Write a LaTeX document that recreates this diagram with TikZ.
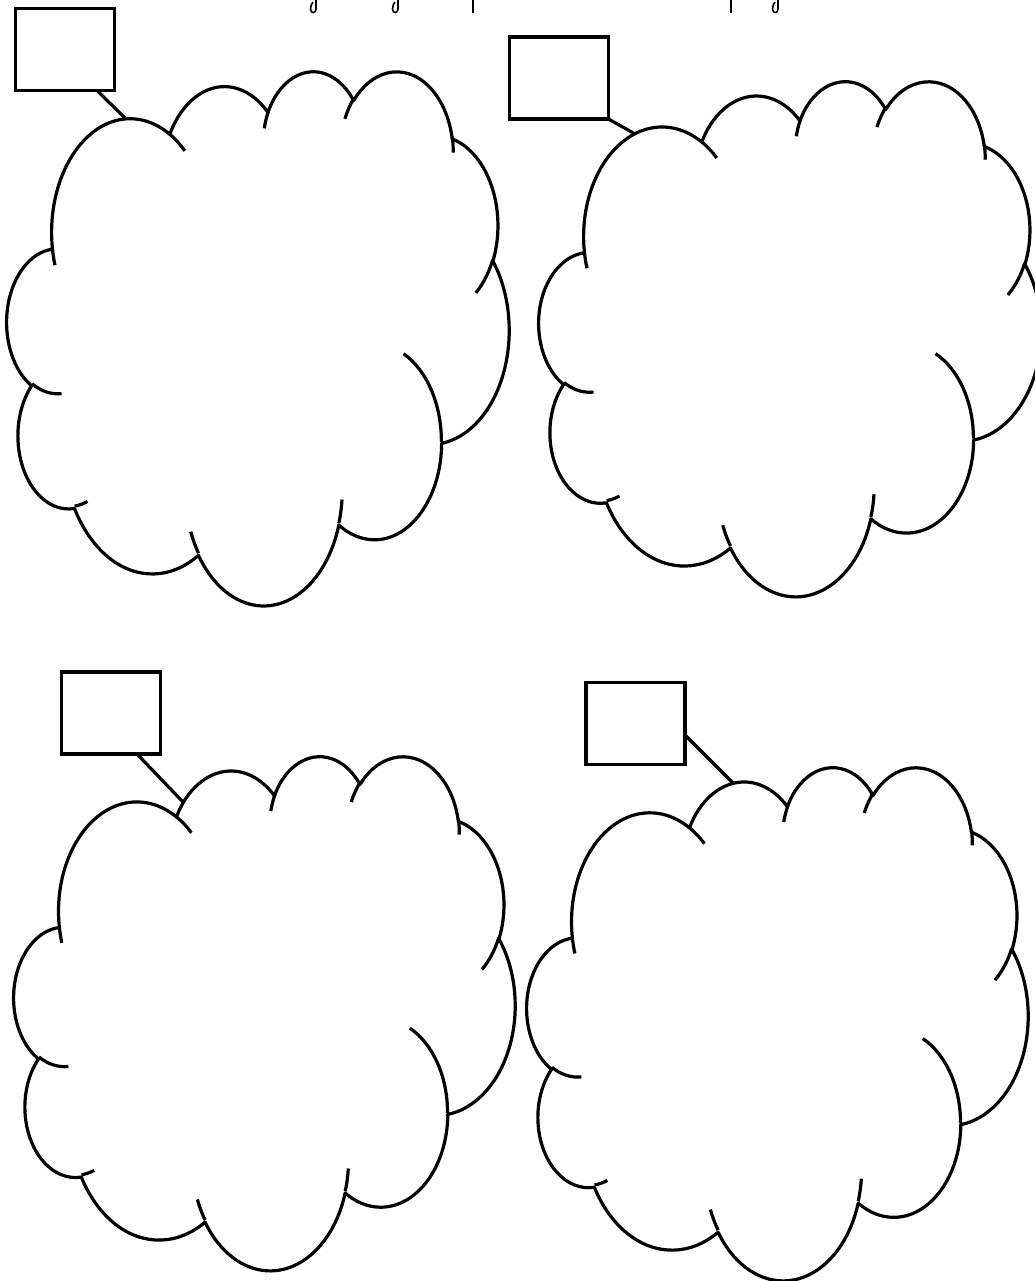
\documentclass[tikz,border=0pt]{standalone}
\pgfmathdeclarefunction{pang}{3}{%
  \begingroup
  \pgfmathparse{#1+Mod(atan2(#2*sin(#1),#3*cos(#1))-#1+180,360)-180}%
  \pgfmathsmuggle\pgfmathresult
  \endgroup}
\newcommand\oarc[4]{arc[start angle={pang(#3,#1,#2)}, end angle={pang(#3+#4,#1,#2)}, x radius=#1, y radius=#2]}
\newcommand\officecloud[4]{%
  \begin{scope}[shift={(#1,#2)}, xscale=#3/43.2, yscale=#4/43.2]
    \draw[cloudline, fill=white] (3.900,14.370)
      \oarc{6.753}{9.190}{-190.4875}{123.7805}
      \oarc{5.333}{7.267}{-144.1024}{89.9452}
      \oarc{4.365}{5.945}{-145.8079}{99.7230}
      \oarc{4.857}{6.595}{-130.9861}{117.2417}
      \oarc{5.333}{7.273}{-78.7089}{109.0269}
      \oarc{6.775}{9.220}{-46.2673}{130.2690}
      \oarc{5.785}{7.867}{0.6250}{114.0333}
      \oarc{6.752}{9.215}{22.4516}{115.1726}
      \oarc{7.720}{10.543}{66.2426}{75.7110}
      \oarc{4.360}{5.918}{-274.9421}{146.7356}
      \oarc{4.345}{5.945}{-246.8285}{152.5189}
      -- cycle;
    \draw[cloudline]
      (4.693,26.177) \oarc{4.345}{5.945}{86.7420}{26.4295}
      (6.928,34.899) \oarc{4.360}{5.918}{73.6105}{11.4475}
      (16.478,39.090) \oarc{6.752}{9.215}{137.6242}{14.0811}
      (28.827,34.751) \oarc{6.752}{9.215}{6.4533}{15.9984}
      (34.129,22.954) \oarc{5.785}{7.867}{-70.2924}{70.9174}
      (41.798,15.354) \oarc{5.333}{7.273}{30.3180}{27.7515}
      (38.324,5.426) \oarc{4.857}{6.595}{-13.7443}{14.8589}
      (29.078,3.952) \oarc{4.857}{6.595}{-149.1815}{18.1954}
      (22.141,4.720) \oarc{4.365}{5.945}{-163.4943}{17.6864}
      (14.000,5.192) \oarc{6.753}{9.190}{-66.7070}{12.3194}
      (4.127,15.789) \oarc{6.753}{9.190}{157.6544}{11.8582};
  \end{scope}}
\newcommand\hookmark[1]{%
  \draw[fragline] (#1+3,-1) -- (#1+3,9) .. controls (#1+3,13.5) and (#1-2.5,14) .. (#1-2.5,9)
    .. controls (#1-2.5,6) and (#1-1.5,4) .. (#1,2);}
\begin{document}
\begin{tikzpicture}[x=1pt,y=-1pt,
  cloudline/.style={line width=3.2pt, line join=round, line cap=butt},
  tagbox/.style={draw, line width=3.5pt, fill=white, minimum width=99pt, minimum height=82pt, inner sep=0pt, outer sep=0pt},
  conn/.style={line width=3.2pt},
  fragline/.style={line width=1.6pt}]
\useasboundingbox (0,0) rectangle (1034,1281);
\fill[white] (0,0) rectangle (1034,1281);

% fragments of cut-off text at the top edge
\hookmark{313}
\hookmark{395}
\hookmark{775}
\draw[fragline] (473,-1) -- (473,13);
\draw[fragline] (731,-1) -- (731,13);

% clouds
\officecloud{7}{70}{502}{534}
\officecloud{539}{80}{502}{515}
\officecloud{14}{755}{501}{514}
\officecloud{527}{766}{501}{513}

% tag boxes
\node[tagbox] (s1) at (65,49.5) {};
\node[tagbox] (s2) at (559,78) {};
\node[tagbox] (s3) at (111,713) {};
\node[tagbox] (s4) at (635.5,723.5) {};

% attachment points on the clouds
\coordinate (k1) at (125,118);
\coordinate (k2) at (635,134);
\coordinate (k3) at (183,802);
\coordinate (k4) at (733,783);

\draw[conn] ([xshift=-17.5pt]s1.south east) -- (k1);
\draw[conn] (s2.south east) -- (k2);
\draw[conn] ([xshift=-23.5pt]s3.south east) -- (k3);
\draw[conn] ([yshift=-11.5pt]s4.east) -- (k4);
\end{tikzpicture}
\end{document}
